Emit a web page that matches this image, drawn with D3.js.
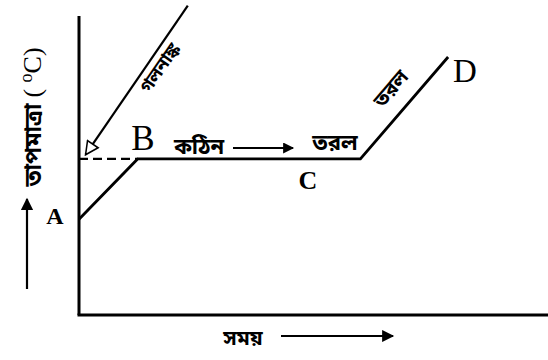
<!DOCTYPE html>
<html>
<head>
<meta charset="utf-8">
<script src="https://cdn.jsdelivr.net/npm/d3@7"></script>
<style>
  body { margin: 0; background: #fff; }
  .bn { font-family: "Noto Sans Bengali", "Noto Serif Bengali", "Lohit Bengali", "Noto Sans", sans-serif; font-weight: bold; }
  .pt { font-family: "Liberation Serif", "DejaVu Serif", serif; }
</style>
</head>
<body>
<svg id="chart"></svg>
<script>
// Heating curve: time (x) vs temperature (y), arbitrary units
const stageNames = ["A", "B", "C", "D"];
const stageTime = [0, 12.5, 60, 78.7];
const stageTemp = [32, 52.2, 52.2, 86.3];

// melting point pointer (start, end)
const meltTime = [23.2, 1.4];
const meltTemp = [103.5, 53.6];

const labels = {
  yTitle: "তাপমাত্রা",
  unit: "C",
  xTitle: "সময়",
  melt: "গলনাঙ্ক",
  solid: "কঠিন",
  liquid: "তরল"
};

const width = 548, height = 360;
const svg = d3.select("#chart")
  .attr("width", width)
  .attr("height", height);

const x = d3.scaleLinear().domain([0, 100]).range([79, 548]);
const y = d3.scaleLinear().domain([0, 100]).range([315, 16]);

// arrow heads
const defs = svg.append("defs");
defs.append("marker")
  .attr("id", "head")
  .attr("viewBox", "0 0 10 10")
  .attr("refX", 9).attr("refY", 5)
  .attr("markerWidth", 6).attr("markerHeight", 5.5)
  .attr("markerUnits", "strokeWidth")
  .attr("orient", "auto")
  .append("path")
  .attr("d", "M0,0L10,5L0,10Z")
  .attr("fill", "#000");
defs.append("marker")
  .attr("id", "open")
  .attr("viewBox", "0 0 12 12")
  .attr("refX", 11).attr("refY", 6)
  .attr("markerWidth", 7).attr("markerHeight", 7)
  .attr("markerUnits", "strokeWidth")
  .attr("orient", "auto")
  .append("path")
  .attr("d", "M1,1L11,6L1,11Z")
  .attr("fill", "#fff")
  .attr("stroke", "#000")
  .attr("stroke-width", 1.2);

// Axes (no ticks)
const xAxis = d3.axisBottom(x).tickValues([]).tickSize(0).tickSizeOuter(0);
const yAxis = d3.axisLeft(y).tickValues([]).tickSize(0).tickSizeOuter(0);
svg.append("g")
  .attr("transform", `translate(0, ${y(0)})`)
  .call(xAxis)
  .select(".domain").attr("stroke-width", 3).attr("d", `M${x(0) - 1.5},0H${x(100)}`);
svg.append("g")
  .attr("transform", `translate(${x(0)}, 0)`)
  .call(yAxis)
  .select(".domain").attr("stroke-width", 3).attr("d", `M0,${y(100)}V${y(0)}`);

// Heating curve
const pts = stageTime.map((t, i) => [t, stageTemp[i]]);
const line = d3.line().x(d => x(d[0])).y(d => y(d[1]));
svg.append("path")
  .datum(pts)
  .attr("d", line)
  .attr("fill", "none")
  .attr("stroke", "#000")
  .attr("stroke-width", 2.8)
  .attr("stroke-linejoin", "miter");

// Dashed guide at melting point
svg.append("line")
  .attr("x1", x(0)).attr("x2", x(stageTime[1]))
  .attr("y1", y(stageTemp[1])).attr("y2", y(stageTemp[1]))
  .attr("stroke", "#000")
  .attr("stroke-width", 2.2)
  .attr("stroke-dasharray", "9,5");

// Melting point pointer
svg.append("line")
  .attr("x1", x(meltTime[0])).attr("y1", y(meltTemp[0]))
  .attr("x2", x(meltTime[1])).attr("y2", y(meltTemp[1]))
  .attr("stroke", "#000")
  .attr("stroke-width", 2.2)
  .attr("marker-end", "url(#open)");

const meltAngle = Math.atan2(y(meltTemp[1]) - y(meltTemp[0]), x(meltTime[1]) - x(meltTime[0])) * 180 / Math.PI + 180;
svg.append("text")
  .attr("class", "bn")
  .attr("transform", `translate(${x(18.3)}, ${y(81.5)}) rotate(${meltAngle})`)
  .attr("text-anchor", "middle")
  .attr("font-size", 18)
  .text(labels.melt);

// Point labels
svg.append("text").attr("class", "pt")
  .attr("x", 55).attr("y", 224)
  .attr("text-anchor", "middle").attr("font-weight", "bold").attr("font-size", 24)
  .text(stageNames[0]);
svg.append("text").attr("class", "pt")
  .attr("x", 143).attr("y", 150)
  .attr("text-anchor", "middle").attr("font-size", 35)
  .text(stageNames[1]);
svg.append("text").attr("class", "pt")
  .attr("x", 308).attr("y", 189)
  .attr("text-anchor", "middle").attr("font-weight", "bold").attr("font-size", 26)
  .text(stageNames[2]);
svg.append("text").attr("class", "pt")
  .attr("x", 465).attr("y", 82)
  .attr("text-anchor", "middle").attr("font-size", 33)
  .text(stageNames[3]);

// Phase labels on plateau
svg.append("text").attr("class", "bn")
  .attr("x", 199).attr("y", 154)
  .attr("text-anchor", "middle").attr("font-size", 22)
  .text(labels.solid);
svg.append("line")
  .attr("x1", 233).attr("x2", 293)
  .attr("y1", 148).attr("y2", 148)
  .attr("stroke", "#000").attr("stroke-width", 2)
  .attr("marker-end", "url(#head)");
svg.append("text").attr("class", "bn")
  .attr("x", 335).attr("y", 150)
  .attr("text-anchor", "middle").attr("font-size", 22)
  .text(labels.liquid);

// Label along liquid heating segment
const liqAngle = Math.atan2(y(stageTemp[3]) - y(stageTemp[2]), x(stageTime[3]) - x(stageTime[2])) * 180 / Math.PI;
svg.append("text").attr("class", "bn")
  .attr("transform", `translate(396, 93) rotate(${liqAngle})`)
  .attr("text-anchor", "middle").attr("font-size", 20)
  .text(labels.liquid);

// Y title
const yt = svg.append("text")
  .attr("transform", "translate(41, 117) rotate(-90)")
  .attr("text-anchor", "middle");
yt.append("tspan").attr("class", "bn").attr("font-size", 23).text(labels.yTitle + " ");
yt.append("tspan").attr("class", "pt").attr("font-size", 26).text("( ");
yt.append("tspan").attr("class", "pt").attr("font-size", 18).attr("dy", -9).text("o");
yt.append("tspan").attr("class", "pt").attr("font-size", 26).attr("dy", 9).text("C)");

svg.append("line")
  .attr("x1", 27).attr("x2", 27)
  .attr("y1", 289).attr("y2", 199)
  .attr("stroke", "#000").attr("stroke-width", 2.2)
  .attr("marker-end", "url(#head)");

// X title
svg.append("text").attr("class", "bn")
  .attr("x", 243).attr("y", 345)
  .attr("text-anchor", "middle").attr("font-size", 21)
  .text(labels.xTitle);
svg.append("line")
  .attr("x1", 281).attr("x2", 393)
  .attr("y1", 336).attr("y2", 336)
  .attr("stroke", "#000").attr("stroke-width", 2.2)
  .attr("marker-end", "url(#head)");
</script>
</body>
</html>
